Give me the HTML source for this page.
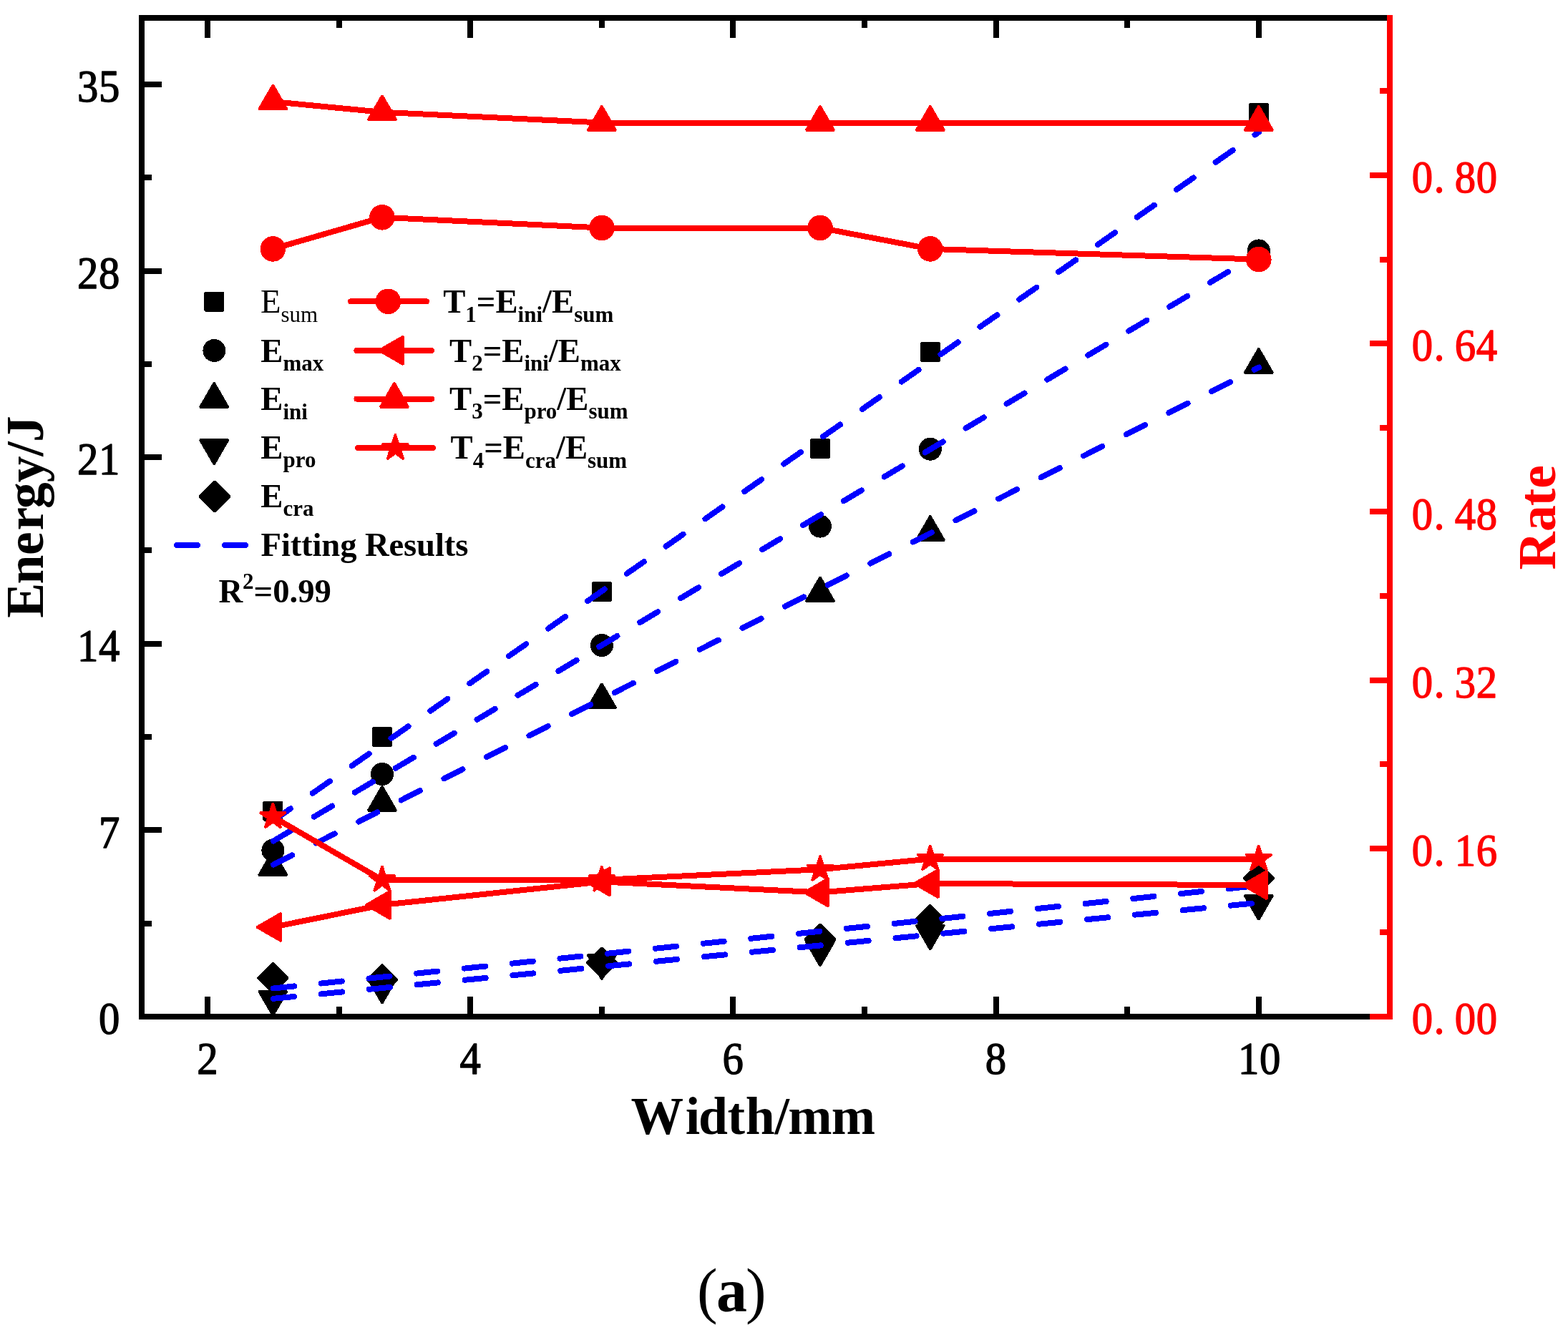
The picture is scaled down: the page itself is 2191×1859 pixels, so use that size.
<!DOCTYPE html>
<html lang="en"><head><meta charset="utf-8"><title>Energy and rate versus width (a)</title>
<style>html,body{margin:0;padding:0;background:#fff}body{width:2191px;height:1859px;overflow:hidden}svg{display:block}.s{font-family:"Liberation Serif","DejaVu Serif",serif}.b{font-weight:bold}</style></head><body>
<svg width="2191" height="1859" viewBox="0 0 2191 1859" class="s">
<rect width="2191" height="1859" fill="#fff"/>
<g id="scatter" shape-rendering="crispEdges" stroke-width="3" stroke-linejoin="bevel">
<polygon points="368.9,1121.3 393.9,1121.3 393.9,1146.3 368.9,1146.3" fill="#000000" stroke="#000000"/>
<polygon points="521.5,1017.5 546.5,1017.5 546.5,1042.5 521.5,1042.5" fill="#000000" stroke="#000000"/>
<polygon points="828.4,814.9 853.4,814.9 853.4,839.9 828.4,839.9" fill="#000000" stroke="#000000"/>
<polygon points="1133.5,614.8 1158.5,614.8 1158.5,639.8 1133.5,639.8" fill="#000000" stroke="#000000"/>
<polygon points="1287.3,479.5 1312.3,479.5 1312.3,504.5 1287.3,504.5" fill="#000000" stroke="#000000"/>
<polygon points="1746.3,145.6 1771.3,145.6 1771.3,170.6 1746.3,170.6" fill="#000000" stroke="#000000"/>
<circle cx="381.4" cy="1188.6" r="16" fill="#000000"/>
<circle cx="534" cy="1082" r="16" fill="#000000"/>
<circle cx="840.9" cy="902" r="16" fill="#000000"/>
<circle cx="1146" cy="735.6" r="16" fill="#000000"/>
<circle cx="1299.8" cy="627.7" r="16" fill="#000000"/>
<circle cx="1758.8" cy="350.4" r="16" fill="#000000"/>
<polygon points="381.4,1189.09 401.15,1223.3 361.65,1223.3" fill="#000000" stroke="#000000"/>
<polygon points="534,1098.99 553.75,1133.2 514.25,1133.2" fill="#000000" stroke="#000000"/>
<polygon points="840.9,955.29 860.65,989.5 821.15,989.5" fill="#000000" stroke="#000000"/>
<polygon points="1146,806.49 1165.75,840.7 1126.25,840.7" fill="#000000" stroke="#000000"/>
<polygon points="1299.8,721.19 1319.55,755.4 1280.05,755.4" fill="#000000" stroke="#000000"/>
<polygon points="1758.8,487.09 1778.55,521.3 1739.05,521.3" fill="#000000" stroke="#000000"/>
<polygon points="381.4,1419.61 401.15,1385.4 361.65,1385.4" fill="#000000" stroke="#000000"/>
<polygon points="534,1402.31 553.75,1368.1 514.25,1368.1" fill="#000000" stroke="#000000"/>
<polygon points="840.9,1368.81 860.65,1334.6 821.15,1334.6" fill="#000000" stroke="#000000"/>
<polygon points="1146,1350.01 1165.75,1315.8 1126.25,1315.8" fill="#000000" stroke="#000000"/>
<polygon points="1299.8,1327.31 1319.55,1293.1 1280.05,1293.1" fill="#000000" stroke="#000000"/>
<polygon points="1758.8,1285.71 1778.55,1251.5 1739.05,1251.5" fill="#000000" stroke="#000000"/>
<polygon points="381.4,1345.8 402.3,1366.7 381.4,1387.6 360.5,1366.7" fill="#000000" stroke="#000000"/>
<polygon points="534,1348.4 554.9,1369.3 534,1390.2 513.1,1369.3" fill="#000000" stroke="#000000"/>
<polygon points="840.9,1324.9 861.8,1345.8 840.9,1366.7 820,1345.8" fill="#000000" stroke="#000000"/>
<polygon points="1146,1292.1 1166.9,1313 1146,1333.9 1125.1,1313" fill="#000000" stroke="#000000"/>
<polygon points="1299.8,1265 1320.7,1285.9 1299.8,1306.8 1278.9,1285.9" fill="#000000" stroke="#000000"/>
<polygon points="1758.8,1206.7 1779.7,1227.6 1758.8,1248.5 1737.9,1227.6" fill="#000000" stroke="#000000"/>
</g>
<g id="fits" fill="none" stroke="#0000ff" stroke-width="8" stroke-linecap="round" shape-rendering="crispEdges">
<line x1="382" y1="1147" x2="1759" y2="184.6" stroke-dasharray="29.2 37.73"/>
<line x1="382" y1="1175.5" x2="1759" y2="354.3" stroke-dasharray="29.2 37.07"/>
<line x1="382" y1="1208.6" x2="1759" y2="513.6" stroke-dasharray="29.2 37.55"/>
<line x1="382" y1="1381.5" x2="1759" y2="1237.7" stroke-dasharray="29.2 37.9"/>
<line x1="382" y1="1395.8" x2="1759" y2="1261.8" stroke-dasharray="29.2 38"/>
</g>
<g id="rates" shape-rendering="crispEdges" stroke-width="3" stroke-linejoin="bevel">
<polyline fill="none" stroke="#ff0000" stroke-width="8" stroke-linejoin="round" stroke-linecap="round" points="381.4,347.9 534,303.8 840.9,318.5 1146,318.5 1299.8,347.9 1758.8,362.6"/>
<circle cx="381.4" cy="347.9" r="17.8" fill="#ff0000"/>
<circle cx="534" cy="303.8" r="17.8" fill="#ff0000"/>
<circle cx="840.9" cy="318.5" r="17.8" fill="#ff0000"/>
<circle cx="1146" cy="318.5" r="17.8" fill="#ff0000"/>
<circle cx="1299.8" cy="347.9" r="17.8" fill="#ff0000"/>
<circle cx="1758.8" cy="362.6" r="17.8" fill="#ff0000"/>
<polyline fill="none" stroke="#ff0000" stroke-width="8" stroke-linejoin="round" stroke-linecap="round" points="381.4,1295.9 534,1264.9 840.9,1232.4 1146,1247.4 1299.8,1235 1758.8,1237"/>
<polygon points="358.59,1295.9 392.8,1276.15 392.8,1315.65" fill="#ff0000" stroke="#ff0000"/>
<polygon points="511.19,1264.9 545.4,1245.15 545.4,1284.65" fill="#ff0000" stroke="#ff0000"/>
<polygon points="818.09,1232.4 852.3,1212.65 852.3,1252.15" fill="#ff0000" stroke="#ff0000"/>
<polygon points="1123.19,1247.4 1157.4,1227.65 1157.4,1267.15" fill="#ff0000" stroke="#ff0000"/>
<polygon points="1276.99,1235 1311.2,1215.25 1311.2,1254.75" fill="#ff0000" stroke="#ff0000"/>
<polygon points="1735.99,1237 1770.2,1217.25 1770.2,1256.75" fill="#ff0000" stroke="#ff0000"/>
<polyline fill="none" stroke="#ff0000" stroke-width="8" stroke-linejoin="round" stroke-linecap="round" points="381.4,142.1 534,156.8 840.9,171.5 1146,171.5 1299.8,171.5 1758.8,171.5"/>
<polygon points="381.4,118.59 401.15,152.8 361.65,152.8" fill="#ff0000" stroke="#ff0000"/>
<polygon points="534,133.29 553.75,167.5 514.25,167.5" fill="#ff0000" stroke="#ff0000"/>
<polygon points="840.9,147.99 860.65,182.2 821.15,182.2" fill="#ff0000" stroke="#ff0000"/>
<polygon points="1146,147.99 1165.75,182.2 1126.25,182.2" fill="#ff0000" stroke="#ff0000"/>
<polygon points="1299.8,147.99 1319.55,182.2 1280.05,182.2" fill="#ff0000" stroke="#ff0000"/>
<polygon points="1758.8,147.99 1778.55,182.2 1739.05,182.2" fill="#ff0000" stroke="#ff0000"/>
<polyline fill="none" stroke="#ff0000" stroke-width="8" stroke-linejoin="round" stroke-linecap="round" points="381.4,1141.7 534,1229.9 840.9,1229.9 1146,1215.2 1299.8,1200.5 1758.8,1200.5"/>
<polygon points="381.4,1122.4 385.73,1135.74 399.76,1135.74 388.41,1143.98 392.74,1157.31 381.4,1149.07 370.06,1157.31 374.39,1143.98 363.04,1135.74 377.07,1135.74" fill="#ff0000" stroke="#ff0000"/>
<polygon points="534,1210.6 538.33,1223.94 552.36,1223.94 541.01,1232.18 545.34,1245.51 534,1237.27 522.66,1245.51 526.99,1232.18 515.64,1223.94 529.67,1223.94" fill="#ff0000" stroke="#ff0000"/>
<polygon points="840.9,1210.6 845.23,1223.94 859.26,1223.94 847.91,1232.18 852.24,1245.51 840.9,1237.27 829.56,1245.51 833.89,1232.18 822.54,1223.94 836.57,1223.94" fill="#ff0000" stroke="#ff0000"/>
<polygon points="1146,1195.9 1150.33,1209.24 1164.36,1209.24 1153.01,1217.48 1157.34,1230.81 1146,1222.57 1134.66,1230.81 1138.99,1217.48 1127.64,1209.24 1141.67,1209.24" fill="#ff0000" stroke="#ff0000"/>
<polygon points="1299.8,1181.2 1304.13,1194.54 1318.16,1194.54 1306.81,1202.78 1311.14,1216.11 1299.8,1207.87 1288.46,1216.11 1292.79,1202.78 1281.44,1194.54 1295.47,1194.54" fill="#ff0000" stroke="#ff0000"/>
<polygon points="1758.8,1181.2 1763.13,1194.54 1777.16,1194.54 1765.81,1202.78 1770.14,1216.11 1758.8,1207.87 1747.46,1216.11 1751.79,1202.78 1740.44,1194.54 1754.47,1194.54" fill="#ff0000" stroke="#ff0000"/>
</g>
<g id="frame" shape-rendering="crispEdges">
<rect x="194" y="21" width="8" height="1404" fill="#000000"/>
<rect x="194" y="21" width="1744" height="8" fill="#000000"/>
<rect x="194" y="1417" width="1720" height="8" fill="#000000"/>
<rect x="1938" y="21" width="8" height="1404" fill="#ff0000"/>
<rect x="1914" y="1417" width="32" height="8" fill="#ff0000"/>
<rect x="286" y="1393" width="8" height="24" fill="#000000"/>
<rect x="286" y="29" width="8" height="24" fill="#000000"/>
<rect x="653" y="1393" width="8" height="24" fill="#000000"/>
<rect x="653" y="29" width="8" height="24" fill="#000000"/>
<rect x="1020" y="1393" width="8" height="24" fill="#000000"/>
<rect x="1020" y="29" width="8" height="24" fill="#000000"/>
<rect x="1388" y="1393" width="8" height="24" fill="#000000"/>
<rect x="1388" y="29" width="8" height="24" fill="#000000"/>
<rect x="1755" y="1393" width="8" height="24" fill="#000000"/>
<rect x="1755" y="29" width="8" height="24" fill="#000000"/>
<rect x="470" y="1407" width="8" height="10" fill="#000000"/>
<rect x="470" y="29" width="8" height="10" fill="#000000"/>
<rect x="837" y="1407" width="8" height="10" fill="#000000"/>
<rect x="837" y="29" width="8" height="10" fill="#000000"/>
<rect x="1204" y="1407" width="8" height="10" fill="#000000"/>
<rect x="1204" y="29" width="8" height="10" fill="#000000"/>
<rect x="1571" y="1407" width="8" height="10" fill="#000000"/>
<rect x="1571" y="29" width="8" height="10" fill="#000000"/>
<rect x="202" y="1156" width="24" height="8" fill="#000000"/>
<rect x="202" y="896" width="24" height="8" fill="#000000"/>
<rect x="202" y="635" width="24" height="8" fill="#000000"/>
<rect x="202" y="375" width="24" height="8" fill="#000000"/>
<rect x="202" y="114" width="24" height="8" fill="#000000"/>
<rect x="202" y="1287" width="10" height="8" fill="#000000"/>
<rect x="202" y="1026" width="10" height="8" fill="#000000"/>
<rect x="202" y="765" width="10" height="8" fill="#000000"/>
<rect x="202" y="505" width="10" height="8" fill="#000000"/>
<rect x="202" y="244" width="10" height="8" fill="#000000"/>
<rect x="1914" y="1182" width="24" height="8" fill="#ff0000"/>
<rect x="1914" y="947" width="24" height="8" fill="#ff0000"/>
<rect x="1914" y="711" width="24" height="8" fill="#ff0000"/>
<rect x="1914" y="476" width="24" height="8" fill="#ff0000"/>
<rect x="1914" y="241" width="24" height="8" fill="#ff0000"/>
<rect x="1928" y="1299" width="10" height="8" fill="#ff0000"/>
<rect x="1928" y="1064" width="10" height="8" fill="#ff0000"/>
<rect x="1928" y="829" width="10" height="8" fill="#ff0000"/>
<rect x="1928" y="594" width="10" height="8" fill="#ff0000"/>
<rect x="1928" y="359" width="10" height="8" fill="#ff0000"/>
<rect x="1928" y="123" width="10" height="8" fill="#ff0000"/>
</g>
<g id="ticklabels" stroke-width="1.4" stroke-linejoin="round">
<text transform="scale(0.925 1)" x="149.07" y="1445.3" font-size="63.5" fill="#000000" stroke="#000000">0</text>
<text transform="scale(0.925 1)" x="149.07" y="1184.69" font-size="63.5" fill="#000000" stroke="#000000">7</text>
<text transform="scale(0.925 1)" x="116.64 149.07" y="924.08" font-size="63.5" fill="#000000" stroke="#000000">14</text>
<text transform="scale(0.925 1)" x="116.64 149.07" y="663.47" font-size="63.5" fill="#000000" stroke="#000000">21</text>
<text transform="scale(0.925 1)" x="116.64 149.07" y="402.86" font-size="63.5" fill="#000000" stroke="#000000">28</text>
<text transform="scale(0.925 1)" x="116.64 149.07" y="142.25" font-size="63.5" fill="#000000" stroke="#000000">35</text>
<text transform="scale(0.925 1)" x="297.5" y="1501.3" font-size="63.5" fill="#000000" stroke="#000000">2</text>
<text transform="scale(0.925 1)" x="694.48" y="1501.3" font-size="63.5" fill="#000000" stroke="#000000">4</text>
<text transform="scale(0.925 1)" x="1091.45" y="1501.3" font-size="63.5" fill="#000000" stroke="#000000">6</text>
<text transform="scale(0.925 1)" x="1488.42" y="1501.3" font-size="63.5" fill="#000000" stroke="#000000">8</text>
<text transform="scale(0.925 1)" x="1870.26 1902.69" y="1501.3" font-size="63.5" fill="#000000" stroke="#000000">10</text>
<text transform="scale(0.925 1)" x="2132.64 2166.26 2197.5 2229.94" y="1445.3" font-size="63.5" fill="#ff0000" stroke="#ff0000">0.00</text>
<text transform="scale(0.925 1)" x="2132.64 2166.26 2197.5 2229.94" y="1210.1" font-size="63.5" fill="#ff0000" stroke="#ff0000">0.16</text>
<text transform="scale(0.925 1)" x="2132.64 2166.26 2197.5 2229.94" y="974.9" font-size="63.5" fill="#ff0000" stroke="#ff0000">0.32</text>
<text transform="scale(0.925 1)" x="2132.64 2166.26 2197.5 2229.94" y="739.7" font-size="63.5" fill="#ff0000" stroke="#ff0000">0.48</text>
<text transform="scale(0.925 1)" x="2132.64 2166.26 2197.5 2229.94" y="504.5" font-size="63.5" fill="#ff0000" stroke="#ff0000">0.64</text>
<text transform="scale(0.925 1)" x="2132.64 2166.26 2197.5 2229.94" y="269.3" font-size="63.5" fill="#ff0000" stroke="#ff0000">0.80</text>
</g>
<g id="titles" class="b">
<text transform="translate(59.9 863) rotate(-90)" x="-0.69 46.55 86.91 121.57 152.14 188.65 225.36 245.12" y="0" font-size="73.6" fill="#000000">Energy/J</text>
<text transform="translate(2172.8 795) rotate(-90)" x="-1.48 52.02 87.81 112.16" y="0" font-size="73.6" fill="#ff0000">Rate</text>
<text x="881.45 957.71 976.01 1016.61 1041.67 1082.56 1101.24 1161.84" y="1585.2" font-size="73.6" fill="#000000">Width/mm</text>
</g>
<g id="legend">
<g shape-rendering="crispEdges" stroke-width="3" stroke-linejoin="bevel">
<polygon points="286.5,409 311.5,409 311.5,434 286.5,434" fill="#000000" stroke="#000000"/>
<circle cx="299.4" cy="490" r="16" fill="#000000"/>
<polygon points="299.2,535.09 318.95,569.3 279.45,569.3" fill="#000000" stroke="#000000"/>
<polygon points="299.2,649.01 318.95,614.8 279.45,614.8" fill="#000000" stroke="#000000"/>
<polygon points="300,673.1 320.9,694 300,714.9 279.1,694" fill="#000000" stroke="#000000"/>
<path d="M247 762H276.2M314 762H343.2" stroke="#0000ff" stroke-width="8" stroke-linecap="round" fill="none"/>
<line x1="490.1" y1="421.4" x2="595.9" y2="421.4" stroke="#ff0000" stroke-width="8" stroke-linecap="round"/>
<circle cx="542.4" cy="421.3" r="17.8" fill="#ff0000"/>
<line x1="498.4" y1="490" x2="602.9" y2="490" stroke="#ff0000" stroke-width="8" stroke-linecap="round"/>
<polygon points="529.09,489.8 563.3,470.05 563.3,509.55" fill="#ff0000" stroke="#ff0000"/>
<line x1="498.4" y1="557.5" x2="603.5" y2="557.5" stroke="#ff0000" stroke-width="8" stroke-linecap="round"/>
<polygon points="551,534.99 570.75,569.2 531.25,569.2" fill="#ff0000" stroke="#ff0000"/>
<line x1="499.9" y1="626.1" x2="605" y2="626.1" stroke="#ff0000" stroke-width="8" stroke-linecap="round"/>
<polygon points="552.4,606.9 556.73,620.24 570.76,620.24 559.41,628.48 563.74,641.81 552.4,633.57 541.06,641.81 545.39,628.48 534.04,620.24 548.07,620.24" fill="#ff0000" stroke="#ff0000"/>
</g>
<text x="364" y="437.3" font-size="46.7"><tspan dy="0" font-size="46.7">E</tspan><tspan dy="12.6" font-size="31">sum</tspan></text>
<text x="364.3" y="505.6" font-size="46.7" class="b"><tspan dy="0" font-size="46.7">E</tspan><tspan dy="12.6" font-size="31">max</tspan></text>
<text x="364.3" y="573" font-size="46.7" class="b"><tspan dy="0" font-size="46.7">E</tspan><tspan dy="12.6" font-size="31">ini</tspan></text>
<text x="364.3" y="640.8" font-size="46.7" class="b"><tspan dy="0" font-size="46.7">E</tspan><tspan dy="12.6" font-size="31">pro</tspan></text>
<text x="364.3" y="708.8" font-size="46.7" class="b"><tspan dy="0" font-size="46.7">E</tspan><tspan dy="12.6" font-size="31">cra</tspan></text>
<text x="364.5" y="777.3" font-size="46.7" class="b" letter-spacing="-0.14"><tspan dy="0" font-size="46.7">Fitting Results</tspan></text>
<text x="305.4" y="842" font-size="46.7" class="b"><tspan dy="0" font-size="46.7">R</tspan><tspan dy="-19" font-size="31">2</tspan><tspan dy="19" font-size="46.7">=0.99</tspan></text>
<text x="619.2" y="437.3" font-size="46.7" class="b"><tspan dy="0" font-size="46.7">T</tspan><tspan dy="12.6" font-size="31">1</tspan><tspan dy="-12.6" font-size="46.7">=E</tspan><tspan dy="12.6" font-size="31">ini</tspan><tspan dy="-12.6" font-size="46.7">/E</tspan><tspan dy="12.6" font-size="31">sum</tspan></text>
<text x="628" y="505.5" font-size="46.7" class="b"><tspan dy="0" font-size="46.7">T</tspan><tspan dy="12.6" font-size="31">2</tspan><tspan dy="-12.6" font-size="46.7">=E</tspan><tspan dy="12.6" font-size="31">ini</tspan><tspan dy="-12.6" font-size="46.7">/E</tspan><tspan dy="12.6" font-size="31">max</tspan></text>
<text x="628" y="572.8" font-size="46.7" class="b"><tspan dy="0" font-size="46.7">T</tspan><tspan dy="12.6" font-size="31">3</tspan><tspan dy="-12.6" font-size="46.7">=E</tspan><tspan dy="12.6" font-size="31">pro</tspan><tspan dy="-12.6" font-size="46.7">/E</tspan><tspan dy="12.6" font-size="31">sum</tspan></text>
<text x="629.5" y="641" font-size="46.7" class="b"><tspan dy="0" font-size="46.7">T</tspan><tspan dy="12.6" font-size="31">4</tspan><tspan dy="-12.6" font-size="46.7">=E</tspan><tspan dy="12.6" font-size="31">cra</tspan><tspan dy="-12.6" font-size="46.7">/E</tspan><tspan dy="12.6" font-size="31">sum</tspan></text>
</g>
<text id="caption" y="1832.8" font-size="86" x="973.9 1001 1042.1">(<tspan class="b">a</tspan>)</text>
</svg></body></html>
